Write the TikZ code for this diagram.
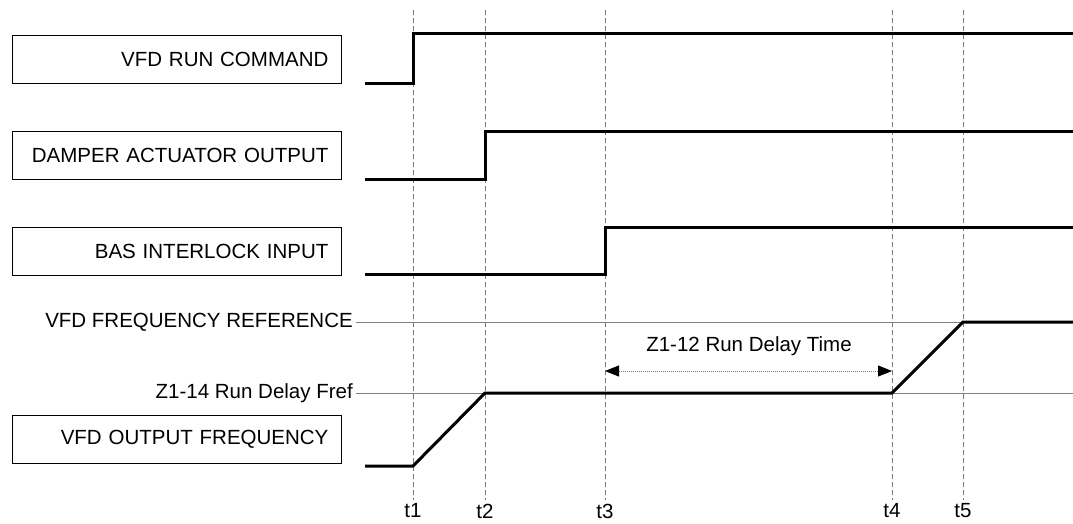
\documentclass[tikz,border=0pt]{standalone}
\usepackage{fontspec}
\setmainfont{Liberation Sans}
\usetikzlibrary{arrows.meta,positioning}
\definecolor{guidegray}{HTML}{7A7A7A}
\definecolor{linegray}{HTML}{808080}

\begin{document}
\begin{tikzpicture}[x=1pt,y=-1pt,
  font=\fontsize{20.5}{22}\selectfont,
  sigbox/.style={draw,line width=0.8pt,text width=303pt,inner xsep=13pt,inner ysep=0pt,
    minimum height=48pt,align=right,anchor=north west},
  sig/.style={line width=3pt,line join=miter},
  guide/.style={guidegray,line width=0.9pt,dash pattern=on 5pt off 3pt},
  refline/.style={linegray,line width=1pt},
  reflabel/.style={anchor=east,inner xsep=3pt}]
  \useasboundingbox (0,0) rectangle (1073,523);
  % time marks
  \foreach \i/\tx in {1/413,2/485,3/605,4/892,5/963}{
    \coordinate (top\i) at (\tx,10);
    \node[inner sep=0pt] (t\i) at (\tx,511) {t\i};
    \draw[guide] (top\i) -- (\tx,500);
  }
  % signal names
  \node[sigbox] (runbox) at (12,35) {VFD RUN COMMAND};
  \node[sigbox] (dampbox) at (12,131) {DAMPER ACTUATOR OUTPUT};
  \node[sigbox] (basbox) at (12,227) {BAS INTERLOCK INPUT};
  \node[sigbox] (outbox) at (12,415) {VFD OUTPUT FREQUENCY};
  % reference levels
  \node[reflabel] (freflbl) at (356,322) {VFD FREQUENCY REFERENCE};
  \node[reflabel] (delaylbl) at (356,393) {Z1-14 Run Delay Fref};
  \coordinate (frefend) at (1073,322);
  \coordinate (delayend) at (1073,393);
  \draw[refline] (freflbl.east) -- (frefend);
  \draw[refline] (delaylbl.east) -- (delayend);
  % signals
  \draw[sig] (365,83) -- (413,83) -- (413,33) -- (1073,33);
  \draw[sig] (365,179) -- (485,179) -- (485,131) -- (1073,131);
  \draw[sig] (365,274) -- (605,274) -- (605,227) -- (1073,227);
  \draw[sig] (365,466) -- (413,466) -- (485,393) -- (892,393) -- (963,322) -- (1073,322);
  % run delay time
  \coordinate (dl) at (605,371);
  \coordinate (dr) at (892,371);
  \draw[linegray,line width=1pt,densely dotted,
    {Triangle[black,length=14pt,width=11pt]}-{Triangle[black,length=14pt,width=11pt]}] (dl) -- (dr);
  \node (delaytxt) at (749,346) {Z1-12 Run Delay Time};
\end{tikzpicture}
\end{document}
